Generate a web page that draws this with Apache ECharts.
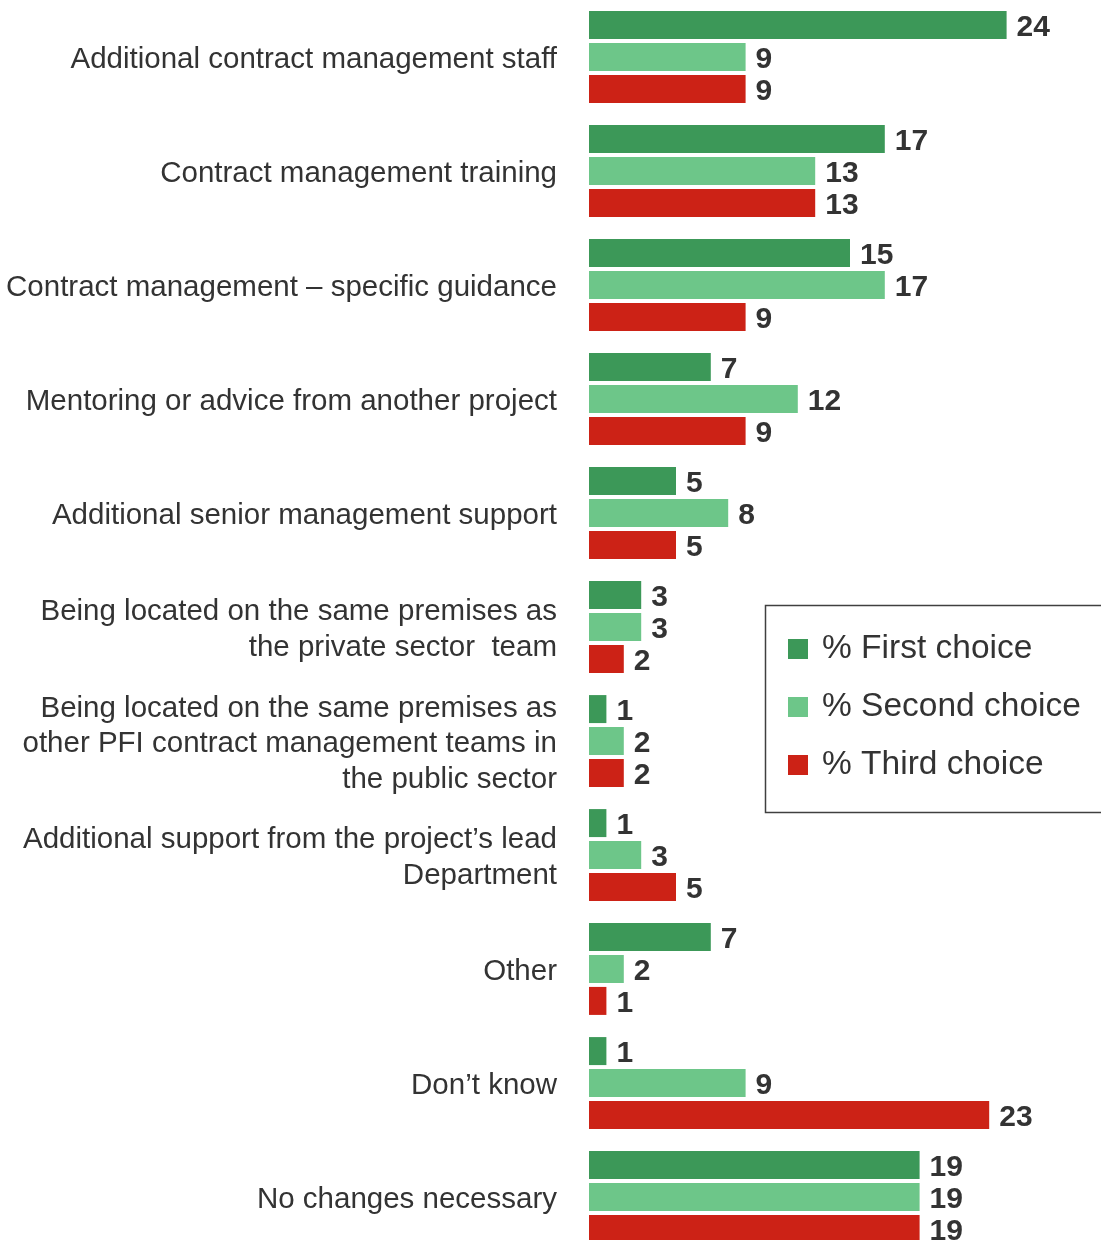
<!DOCTYPE html>
<html>
<head>
<meta charset="utf-8">
<script src="https://cdn.jsdelivr.net/npm/echarts@6/dist/echarts.min.js"></script>
<style>
  html, body { margin: 0; padding: 0; background: #ffffff; }
  #chart { width: 1101px; height: 1240px; }
</style>
</head>
<body>
<div id="chart"></div>
<script>
// Support options that would help contract management (%)
const categories = [
  'Additional contract management staff',
  'Contract management training',
  'Contract management \u2013 specific guidance',
  'Mentoring or advice from another project',
  'Additional senior management support',
  'Being located on the same premises as\nthe private sector  team',
  'Being located on the same premises as\nother PFI contract management teams in\nthe public sector',
  'Additional support from the project\u2019s lead\nDepartment',
  'Other',
  'Don\u2019t know',
  'No changes necessary'
];

const firstChoice  = [24, 17, 15, 7, 5, 3, 1, 1, 7, 1, 19];
const secondChoice = [9, 13, 17, 12, 8, 3, 2, 3, 2, 9, 19];
const thirdChoice  = [9, 13, 9, 9, 5, 2, 2, 5, 1, 23, 19];

const seriesNames = ['% First choice', '% Second choice', '% Third choice'];
const seriesColors = ['#3c9858', '#6dc689', '#cc2216'];

const FONT = "'Liberation Sans', Arial, Helvetica, sans-serif";
const TEXT = '#333333';

const chart = echarts.init(document.getElementById('chart'), null, { renderer: 'canvas' });

function barSeries(name, data, color) {
  return {
    name: name,
    type: 'bar',
    data: data,
    barWidth: 28,
    barGap: '14%',
    itemStyle: { color: color },
    label: {
      show: true,
      position: 'right',
      distance: 10,
      offset: [0, 2.5],
      color: TEXT,
      fontFamily: FONT,
      fontWeight: 'bold',
      fontSize: 30
    },
    emphasis: { disabled: true }
  };
}

// Grid 0 holds the bars; grid 1 is a label-only twin set a few pixels lower
// so the category text sits slightly below each group's centre line.
const gridBase = { left: 589, width: 435, height: 1254, containLabel: false, outerBoundsMode: 'none' };

chart.setOption({
  animation: false,
  backgroundColor: '#ffffff',
  grid: [
    Object.assign({ top: 0 }, gridBase),
    Object.assign({ top: 3 }, gridBase)
  ],
  xAxis: [
    { type: 'value', gridIndex: 0, min: 0, max: 25, show: false },
    { type: 'value', gridIndex: 1, min: 0, max: 25, show: false }
  ],
  yAxis: [
    {
      type: 'category',
      gridIndex: 0,
      data: categories,
      inverse: true,
      axisLine: { show: false },
      axisTick: { show: false },
      splitLine: { show: false },
      axisLabel: { show: false }
    },
    {
      type: 'category',
      gridIndex: 1,
      data: categories,
      inverse: true,
      axisLine: { show: false },
      axisTick: { show: false },
      splitLine: { show: false },
      axisLabel: {
        margin: 32,
        color: TEXT,
        fontFamily: FONT,
        fontSize: 29.5,
        lineHeight: 35.5,
        align: 'right'
      }
    }
  ],
  legend: {
    orient: 'vertical',
    left: 788,
    top: 631,
    padding: 0,
    itemWidth: 20,
    itemHeight: 20,
    itemGap: 22,
    icon: 'rect',
    selectedMode: false,
    data: seriesNames,
    textStyle: {
      color: TEXT,
      fontFamily: FONT,
      fontSize: 33.5,
      lineHeight: 36,
      padding: [0, 0, 0, 9]
    }
  },
  graphic: [{
    type: 'rect',
    left: 763,
    top: 603,
    shape: { width: 360, height: 207 },
    style: { fill: 'none', stroke: '#404040', lineWidth: 1.5 },
    silent: true
  }],
  series: [
    barSeries(seriesNames[0], firstChoice, seriesColors[0]),
    barSeries(seriesNames[1], secondChoice, seriesColors[1]),
    barSeries(seriesNames[2], thirdChoice, seriesColors[2])
  ]
});
</script>
</body>
</html>
